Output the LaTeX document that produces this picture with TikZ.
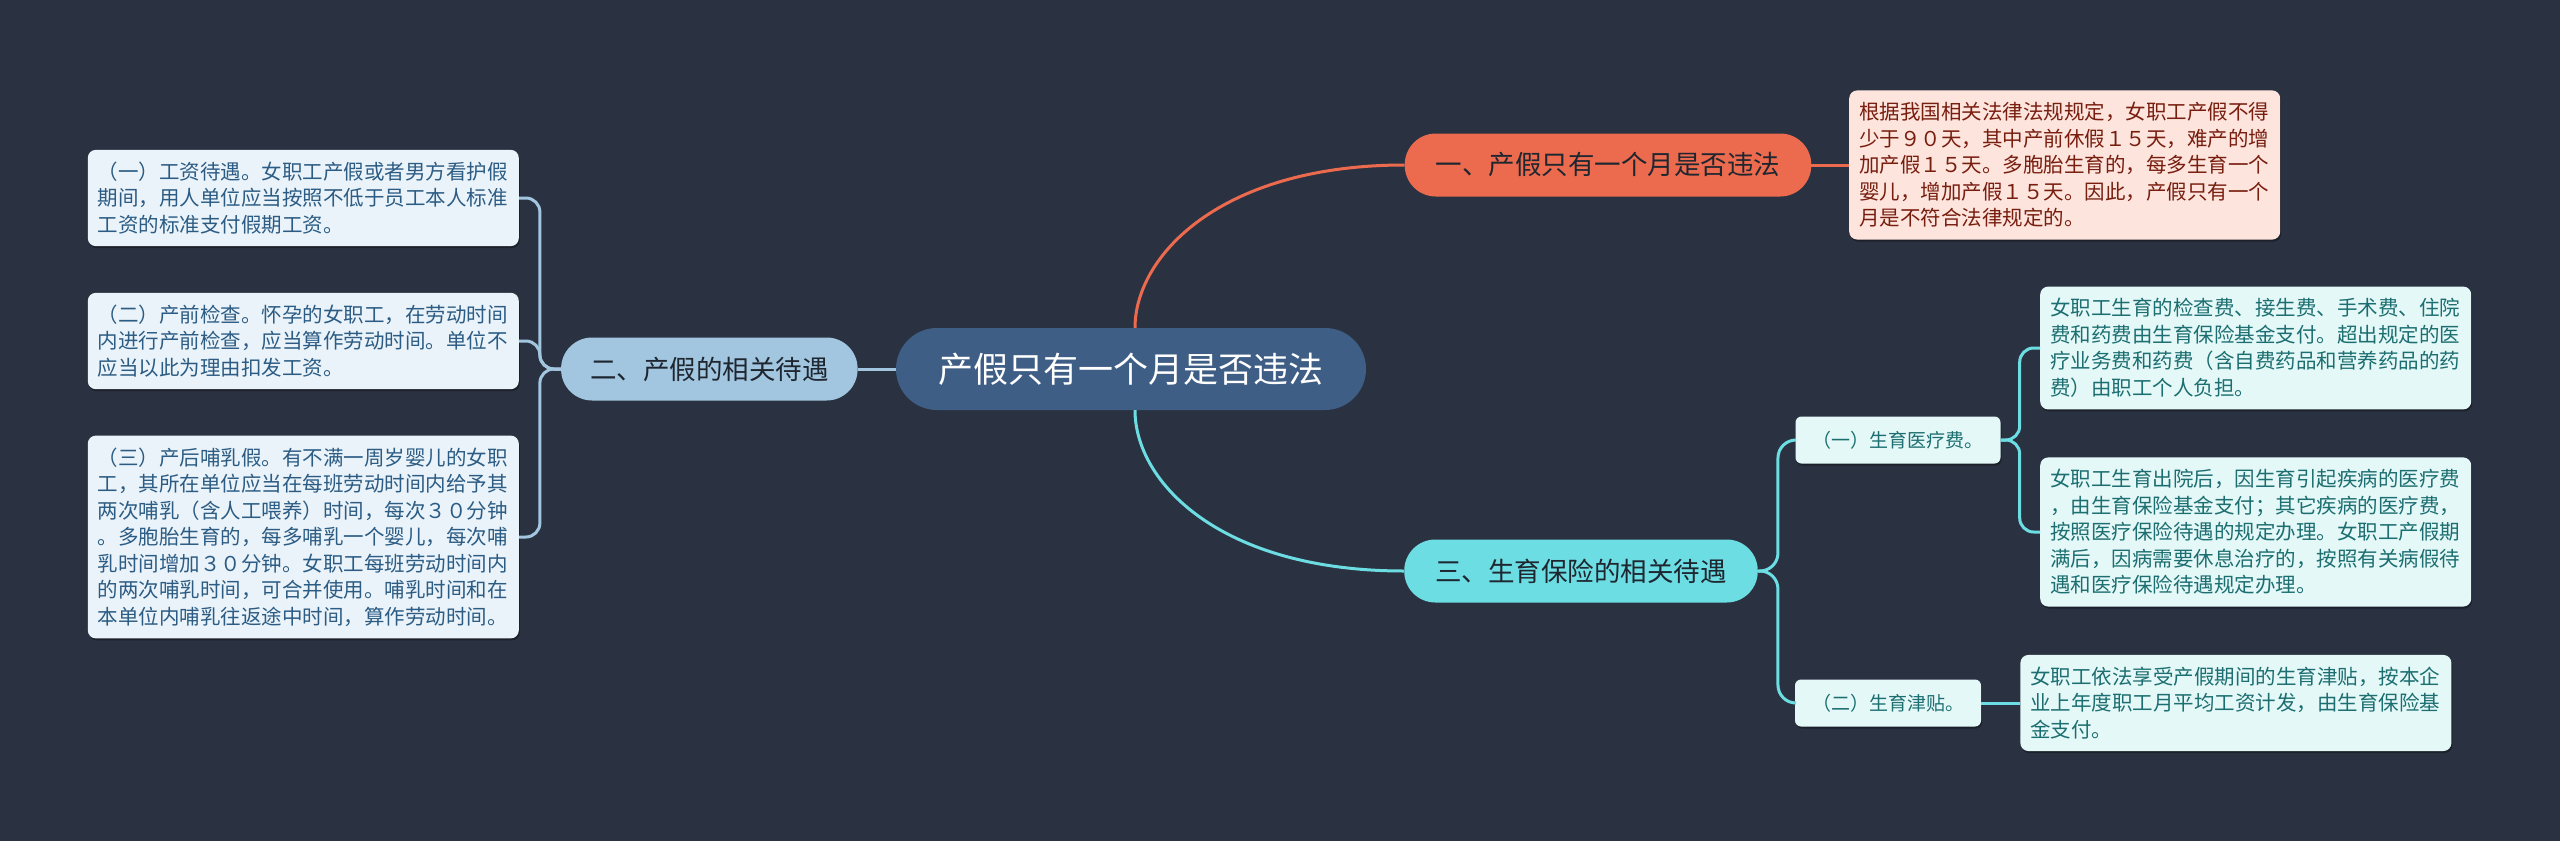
\documentclass[tikz,border=0pt]{standalone}
\usepackage{fontspec}
\setmainfont{Noto Sans CJK SC}
\usetikzlibrary{positioning,shadows}
\definecolor{bgnavy}{RGB}{42,50,65}
\definecolor{rootblue}{RGB}{63,94,133}
\definecolor{brorange}{RGB}{236,106,78}
\definecolor{brblue}{RGB}{163,198,224}
\definecolor{brcyan}{RGB}{108,221,226}
\definecolor{branchtext}{RGB}{30,38,48}
\definecolor{notepink}{RGB}{253,228,221}
\definecolor{pinktext}{RGB}{120,30,15}
\definecolor{notesky}{RGB}{234,243,249}
\definecolor{skytext}{RGB}{44,92,132}
\definecolor{notecyan}{RGB}{228,248,248}
\definecolor{cyantext}{RGB}{28,110,112}

\begin{document}
\begin{tikzpicture}[x=1pt,y=-1pt,node distance=38pt and 38pt,
 root/.style={fill=rootblue,text=white,rounded corners=41pt,minimum width=470pt,minimum height=82pt,font=\fontsize{35}{40}\selectfont},
 branch/.style={rounded corners=31pt,minimum height=63pt,inner xsep=31pt,text=branchtext,font=\fontsize{26.5}{30}\selectfont},
 sub/.style={fill=notecyan,text=cyantext,rounded corners=6pt,minimum height=47pt,inner xsep=17pt,font=\fontsize{19}{22}\selectfont,
  drop shadow={shadow xshift=1pt,shadow yshift=-2pt,fill=black,opacity=.35}},
 note/.style={rounded corners=8pt,align=left,text width=411pt,inner xsep=10pt,inner ysep=12pt,font=\fontsize{20.5}{26.5}\selectfont,
  drop shadow={shadow xshift=1pt,shadow yshift=-2pt,fill=black,opacity=.35}},
 link/.style={line width=3pt}]
\fill[bgnavy] (0,0) rectangle (2560,841);
\node[root] (root) at (1131,369) {产假只有一个月是否违法};
\node[branch,fill=brorange] (law) at (1608,165) {一、产假只有一个月是否违法};
\node[branch,fill=brblue,inner xsep=29pt,left=of root] (pay) {二、产假的相关待遇};
\node[branch,fill=brcyan] (ins) at (1581,571) {三、生育保险的相关待遇};
\node[note,fill=notepink,text=pinktext,anchor=west] (lawnote) at (1849,165) {根据我国相关法律法规规定，女职工产假不得\\少于９０天，其中产前休假１５天，难产的增\\加产假１５天。多胞胎生育的，每多生育一个\\婴儿，增加产假１５天。因此，产假只有一个\\月是不符合法律规定的。};
\node[note,fill=notesky,text=skytext,anchor=east] (payone) at (519,198) {（一）工资待遇。女职工产假或者男方看护假\\期间，用人单位应当按照不低于员工本人标准\\工资的标准支付假期工资。};
\node[note,fill=notesky,text=skytext,anchor=east] (paytwo) at (519,341) {（二）产前检查。怀孕的女职工，在劳动时间\\内进行产前检查，应当算作劳动时间。单位不\\应当以此为理由扣发工资。};
\node[note,fill=notesky,text=skytext,anchor=east] (paythree) at (519,537) {（三）产后哺乳假。有不满一周岁婴儿的女职\\工，其所在单位应当在每班劳动时间内给予其\\两次哺乳（含人工喂养）时间，每次３０分钟\\。多胞胎生育的，每多哺乳一个婴儿，每次哺\\乳时间增加３０分钟。女职工每班劳动时间内\\的两次哺乳时间，可合并使用。哺乳时间和在\\本单位内哺乳往返途中时间，算作劳动时间。};
\node[sub] (medical) at (1898,440) {（一）生育医疗费。};
\node[sub] (allowance) at (1888,703) {（二）生育津贴。};
\node[note,fill=notecyan,text=cyantext,anchor=west] (medone) at (2040,348) {女职工生育的检查费、接生费、手术费、住院\\费和药费由生育保险基金支付。超出规定的医\\疗业务费和药费（含自费药品和营养药品的药\\费）由职工个人负担。};
\node[note,fill=notecyan,text=cyantext,anchor=west] (medtwo) at (2040,532) {女职工生育出院后，因生育引起疾病的医疗费\\，由生育保险基金支付；其它疾病的医疗费，\\按照医疗保险待遇的规定办理。女职工产假期\\满后，因病需要休息治疗的，按照有关病假待\\遇和医疗保险待遇规定办理。};
\node[note,fill=notecyan,text=cyantext,right=39pt of allowance] (allownote) {女职工依法享受产假期间的生育津贴，按本企\\业上年度职工月平均工资计发，由生育保险基\\金支付。};
\draw[link,brorange] ([xshift=4pt]root.north) .. controls +(0,-72) and +(-184,0) .. (law.west);
\draw[link,brorange] (law) -- (lawnote);
\draw[link,brcyan] ([xshift=4pt]root.south) .. controls +(0,72) and +(-184,0) .. (ins.west);
\draw[link,brblue] (root) -- (pay);
\foreach \n in {payone,paytwo,paythree}
 \draw[link,brblue,rounded corners=14pt] (pay.west) -- ++(-21,0) |- (\n.east);
\foreach \n in {medical,allowance}
 \draw[link,brcyan,rounded corners=18pt] (ins.east) -- ++(20,0) |- (\n.west);
\foreach \n in {medone,medtwo}
 \draw[link,brcyan,rounded corners=14pt] (medical.east) -- ++(19,0) |- (\n.west);
\draw[link,brcyan] (allowance) -- (allownote);
\end{tikzpicture}
\end{document}
